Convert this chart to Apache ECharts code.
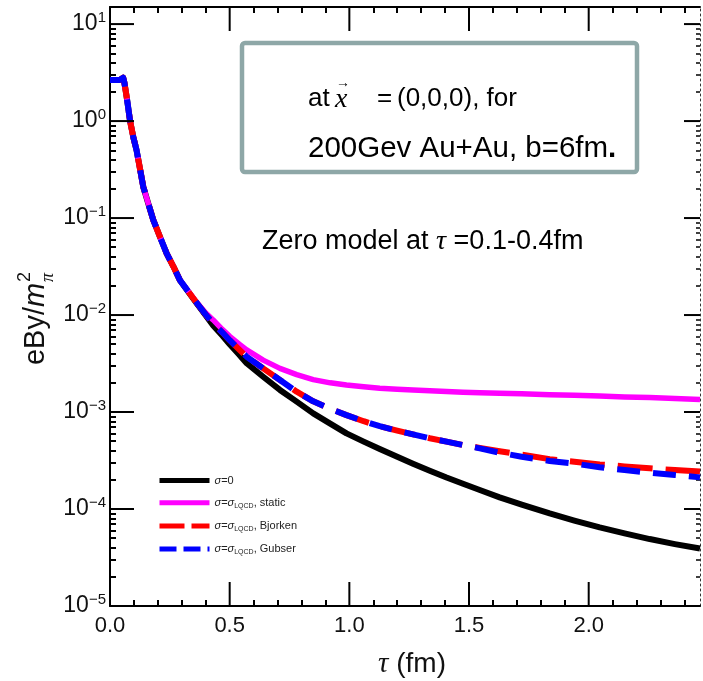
<!DOCTYPE html>
<html>
<head>
<meta charset="utf-8">
<script src="https://cdn.jsdelivr.net/npm/echarts@6/dist/echarts.min.js"></script>
<style>
  html, body { margin: 0; padding: 0; background: #fff; }
  #chart { width: 703px; height: 681px; }
</style>
</head>
<body>
<div id="chart"></div>
<script>
// Proper time tau (fm) at which the field curves are sampled
const TAU = [0, 0.02, 0.04, 0.048, 0.055, 0.06, 0.07, 0.084, 0.097, 0.111,
  0.125, 0.139, 0.16, 0.181, 0.21, 0.237, 0.265, 0.292, 0.33, 0.362,
  0.40, 0.431, 0.47, 0.5, 0.54, 0.571, 0.64, 0.71, 0.78, 0.849,
  0.92, 0.988, 1.06, 1.127, 1.2, 1.266, 1.336, 1.406, 1.475, 1.545,
  1.628, 1.72, 1.837, 1.94, 2.046, 2.15, 2.255, 2.36, 2.465];

// eBy / m_pi^2 for each medium model
const SIGMA_ZERO = [2.65, 2.65, 2.65, 2.58, 2.80, 2.5, 1.75, 1.0, 0.69, 0.50,
  0.325, 0.21, 0.141, 0.095, 0.063, 0.043, 0.0316, 0.0229, 0.0170, 0.0132,
  0.0099, 0.0078, 0.0061, 0.0050, 0.0039, 0.00318, 0.00231, 0.00169, 0.00128, 0.000968,
  0.00076, 0.000603, 0.000495, 0.000415, 0.000345, 0.000293, 0.000248, 0.000211, 0.000182, 0.000157,
  0.000132, 0.000111, 0.00009, 0.000076, 0.0000646, 0.000056, 0.000049, 0.0000435, 0.0000391];

const SIGMA_STATIC = [2.65, 2.65, 2.65, 2.58, 2.80, 2.5, 1.75, 1.0, 0.69, 0.50,
  0.325, 0.21, 0.141, 0.095, 0.063, 0.043, 0.0316, 0.0229, 0.0172, 0.0135,
  0.0105, 0.0089, 0.00708, 0.00603, 0.00501, 0.00437, 0.00343, 0.00282, 0.00243, 0.00216,
  0.0020, 0.0019, 0.00182, 0.00176, 0.00172, 0.00169, 0.00166, 0.00163, 0.0016, 0.00158,
  0.00156, 0.00154, 0.00151, 0.00149, 0.00146, 0.00143, 0.00141, 0.00138, 0.00135];

const SIGMA_BJORKEN = [2.65, 2.65, 2.65, 2.58, 2.80, 2.5, 1.75, 1.0, 0.69, 0.50,
  0.325, 0.21, 0.141, 0.095, 0.063, 0.043, 0.0316, 0.0229, 0.0171, 0.0134,
  0.0101, 0.0082, 0.0066, 0.0055, 0.0044, 0.00372, 0.00282, 0.00214, 0.00162, 0.00129,
  0.00108, 0.00093, 0.000804, 0.000714, 0.000643, 0.000589, 0.000537, 0.000495, 0.000457, 0.000427,
  0.000394, 0.000363, 0.000327, 0.000307, 0.000288, 0.000275, 0.000263, 0.000252, 0.000243];

const SIGMA_GUBSER = [2.65, 2.65, 2.65, 2.58, 2.80, 2.5, 1.75, 1.0, 0.69, 0.50,
  0.325, 0.21, 0.141, 0.095, 0.063, 0.043, 0.0316, 0.0229, 0.0171, 0.0134,
  0.0101, 0.0082, 0.0066, 0.0055, 0.0044, 0.00372, 0.00282, 0.00214, 0.00162, 0.00129,
  0.00108, 0.00093, 0.000804, 0.000714, 0.000643, 0.000589, 0.000537, 0.000495, 0.000457, 0.000422,
  0.00038, 0.000346, 0.000313, 0.000294, 0.000269, 0.000252, 0.000237, 0.000224, 0.000212];

const SERIES_NAMES = ['sigma0', 'static', 'bjorken', 'gubser'];
const LEGEND_TEXT = {
  sigma0: '{i|σ}{r|=0}',
  static: '{i|σ}{r|=}{i|σ}{s|LQCD}{r|, static}',
  bjorken: '{i|σ}{r|=}{i|σ}{s|LQCD}{r|, Bjorken}',
  gubser: '{i|σ}{r|=}{i|σ}{s|LQCD}{r|, Gubser}'
};

// Axis ranges and tick values
const X_MIN = 0, X_MAX = 2.465, X_MAJOR = 0.5;
const X_MAJOR_TICKS = [0, 0.5, 1.0, 1.5, 2.0];
const X_MINOR = [0.1, 0.2, 0.3, 0.4, 0.6, 0.7, 0.8, 0.9, 1.1, 1.2, 1.3, 1.4,
  1.6, 1.7, 1.8, 1.9, 2.1, 2.2, 2.3, 2.4];
const Y_MIN = 1e-5, Y_MAX = 15;
const Y_MAJOR_TICKS = [1e-5, 1e-4, 1e-3, 1e-2, 1e-1, 1, 10];
const Y_MINOR = [];
for (let e = -5; e <= 0; e++) {
  for (let m = 2; m <= 9; m++) Y_MINOR.push(m * Math.pow(10, e));
}

const FONT = '"Liberation Sans", Arial, sans-serif';
const SERIF = '"Liberation Serif", "DejaVu Serif", serif';

const chart = echarts.init(document.getElementById('chart'), null, { renderer: 'canvas' });

function pairs(ys) { return TAU.map((t, i) => [t, ys[i]]); }

function yLabel(v) {
  const lg = Math.log10(v);
  const e = Math.round(lg);
  if (Math.abs(lg - e) > 1e-6) return '';
  return '{b|10}{e|' + (e < 0 ? '\u2212' + (-e) : String(e)) + '}';
}
function xLabel(v) {
  const k = v / X_MAJOR;
  if (Math.abs(k - Math.round(k)) > 1e-6) return '';
  return v.toFixed(1);
}

function tickStyle(w) { return { color: '#000', width: w }; }
function xAxisDef(pos, ticks, len, withLine, extra) {
  return Object.assign({
    type: 'value', min: X_MIN, max: X_MAX, interval: X_MAJOR, position: pos,
    splitLine: { show: false },
    axisLine: { show: withLine, onZero: false, lineStyle: { color: '#000', width: 2 } },
    axisTick: { show: ticks !== null, inside: true, length: len, lineStyle: tickStyle(2), customValues: ticks || undefined },
    axisLabel: { show: false }
  }, extra || {});
}
function yAxisDef(pos, ticks, len, w, line, extra) {
  return Object.assign({
    type: 'log', logBase: 10, min: Y_MIN, max: Y_MAX, position: pos,
    splitLine: { show: false },
    axisLine: line,
    axisTick: { show: ticks !== null, inside: true, length: len, lineStyle: tickStyle(w), customValues: ticks || undefined },
    axisLabel: { show: false }
  }, extra || {});
}

// main axes carry the frame lines and labels; long major ticks are added as graphic lines below
const xAxes = [
  xAxisDef('bottom', null, 0, true, {
    axisLabel: { show: true, margin: 9, fontSize: 22, color: '#111', fontFamily: FONT, formatter: xLabel },
    name: '{t|τ} (fm)', nameLocation: 'middle', nameGap: 44,
    nameTextStyle: { fontSize: 28, color: '#111', fontFamily: FONT, padding: [0, 0, 0, 14],
      rich: { t: { fontSize: 29, fontFamily: SERIF, fontStyle: 'italic', color: '#111' } } }
  }),
  xAxisDef('bottom', X_MINOR, 6, false),
  xAxisDef('top', null, 0, true),
  xAxisDef('top', X_MINOR, 6, false)
];

const solidLine = { show: true, onZero: false, lineStyle: { color: '#000', width: 2 } };
const noLine = { show: false, onZero: false };
const dottedLine = { show: true, onZero: false, lineStyle: { color: '#333', width: 1, type: [2, 3] } };

const yAxes = [
  yAxisDef('left', null, 0, 2, solidLine, {
    axisLabel: {
      show: true, margin: 4, color: '#111', fontFamily: FONT, formatter: yLabel,
      rich: {
        b: { fontSize: 23, fontFamily: FONT, color: '#111' },
        e: { fontSize: 15, fontFamily: FONT, color: '#111', padding: [0, 0, 13, 0] }
      }
    }
  }),
  yAxisDef('left', Y_MINOR, 6, 2, noLine),
  yAxisDef('right', null, 0, 2, dottedLine),
  yAxisDef('right', Y_MINOR, 4, 1.5, noLine)
];

function lineSeries(name, ys, color, width, dash, z) {
  return {
    name: name, type: 'line', data: pairs(ys),
    xAxisIndex: 0, yAxisIndex: 0,
    showSymbol: false, symbol: 'none', smooth: false,
    lineStyle: { color: color, width: width, type: dash, cap: 'butt', join: 'round' },
    itemStyle: { color: color },
    z: z, silent: true
  };
}

// legend entries carry their own sample line style
const LEGEND_LINES = {
  sigma0: { color: '#000000', width: 5, type: 'solid' },
  static: { color: '#ff00ff', width: 5, type: 'solid' },
  bjorken: { color: '#ff0000', width: 5, type: [25, 7] },
  gubser: { color: '#0000ff', width: 5, type: [17, 7] }
};

// Y axis title "eBy/m_pi^2", drawn rotated with a stacked super/subscript
const meas = document.createElement('canvas').getContext('2d');
meas.font = '29px ' + FONT;
const wBase = meas.measureText('eBy/').width;
meas.font = 'italic 29px ' + FONT;
const wM = meas.measureText('m').width;
const titleLen = wBase + wM + 14;
const t0 = -titleLen / 2;

function boxText(x, y, text, font, extra) {
  return {
    type: 'text', z: 11, x: x, y: y,
    style: Object.assign({ text: text, font: font, fill: '#000', verticalAlign: 'middle' }, extra || {})
  };
}

chart.setOption({
  animation: false,
  backgroundColor: '#fff',
  grid: { left: 110, right: 3, top: 7, bottom: 75, containLabel: false, outerBoundsMode: 'none' },
  xAxis: xAxes,
  yAxis: yAxes,
  legend: {
    show: true, orient: 'vertical', left: 152, top: 470,
    itemWidth: 50, itemHeight: 14, itemGap: 11,
    data: SERIES_NAMES.map(n => ({ name: n, lineStyle: LEGEND_LINES[n] })),
    itemStyle: { opacity: 0 },
    formatter: function (n) { return LEGEND_TEXT[n]; },
    textStyle: {
      fontSize: 11, color: '#222', fontFamily: FONT,
      rich: {
        i: { fontSize: 11, fontStyle: 'italic', fontFamily: FONT, color: '#222' },
        r: { fontSize: 11, fontFamily: FONT, color: '#222' },
        s: { fontSize: 7, fontFamily: FONT, color: '#222', padding: [6, 0, 0, 0] }
      }
    },
    selectedMode: false
  },
  series: [
    lineSeries('sigma0', SIGMA_ZERO, '#000000', 6, 'solid', 2),
    lineSeries('static', SIGMA_STATIC, '#ff00ff', 5.5, 'solid', 3),
    lineSeries('bjorken', SIGMA_BJORKEN, '#ff0000', 6, [35, 13], 4),
    lineSeries('gubser', SIGMA_GUBSER, '#0000ff', 6, [23, 13], 5)
  ]
});

// major ticks on all four sides, placed through the chart's own axis scales
const px = v => chart.convertToPixel({ xAxisIndex: 0 }, v);
const py = v => chart.convertToPixel({ yAxisIndex: 0 }, v);
const frameL = px(X_MIN), frameR = px(X_MAX), frameB = py(Y_MIN), frameT = py(Y_MAX);
const tickSt = { stroke: '#000', lineWidth: 2 };
const majorTicks = [];
X_MAJOR_TICKS.forEach(v => {
  const x = px(v);
  majorTicks.push({ type: 'line', z: 20, silent: true, shape: { x1: x, y1: frameB, x2: x, y2: frameB - 24 }, style: tickSt });
  majorTicks.push({ type: 'line', z: 20, silent: true, shape: { x1: x, y1: frameT, x2: x, y2: frameT + 24 }, style: tickSt });
});
Y_MAJOR_TICKS.forEach(v => {
  const y = py(v);
  majorTicks.push({ type: 'line', z: 20, silent: true, shape: { x1: frameL, y1: y, x2: frameL + 24, y2: y }, style: tickSt });
  majorTicks.push({ type: 'line', z: 20, silent: true, shape: { x1: frameR, y1: y, x2: frameR - 16, y2: y }, style: tickSt });
});

chart.setOption({
  graphic: [
    {
      type: 'rect', z: 10,
      shape: { x: 242, y: 43, width: 395, height: 129, r: 3 },
      style: { fill: '#fff', stroke: '#8ea7a7', lineWidth: 4.5 }
    },
    boxText(308, 99, 'at', '26px ' + FONT),
    boxText(335, 100, 'x', 'italic 28px ' + SERIF),
    boxText(343, 83, '\u2192', '14px ' + SERIF, { align: 'center' }),
    boxText(377, 99, '=', '26px ' + FONT),
    boxText(397, 99, '(0,0,0), for', '26px ' + FONT),
    boxText(308, 149, '{a|200Gev Au+Au, b=6fm}{p|.}', '29.5px ' + FONT, {
      rich: {
        a: { fontSize: 29.5, fontFamily: FONT, fill: '#000' },
        p: { fontSize: 29.5, fontFamily: FONT, fontWeight: 'bold', fill: '#000' }
      }
    }),
    boxText(262, 242, '{a|Zero model at }{t|τ}{a| =0.1-0.4fm}', '27px ' + FONT, {
      rich: {
        a: { fontSize: 27, fontFamily: FONT, fill: '#000' },
        t: { fontSize: 28, fontFamily: SERIF, fontStyle: 'italic', fill: '#000' }
      }
    }),
    {
      type: 'group', x: 36, y: 317, rotation: Math.PI / 2, z: 11,
      children: [
        { type: 'text', x: t0, y: 0,
          style: { text: 'eBy/', font: '29px ' + FONT, fill: '#111', verticalAlign: 'middle' } },
        { type: 'text', x: t0 + wBase, y: 0,
          style: { text: 'm', font: 'italic 29px ' + FONT, fill: '#111', verticalAlign: 'middle' } },
        { type: 'text', x: t0 + wBase + wM + 1, y: -11,
          style: { text: '2', font: '18px ' + FONT, fill: '#111', verticalAlign: 'middle' } },
        { type: 'text', x: t0 + wBase + wM + 1, y: 12,
          style: { text: 'π', font: 'italic 18px ' + SERIF, fill: '#111', verticalAlign: 'middle' } }
      ]
    }
  ].concat(majorTicks)
});
</script>
</body>
</html>
